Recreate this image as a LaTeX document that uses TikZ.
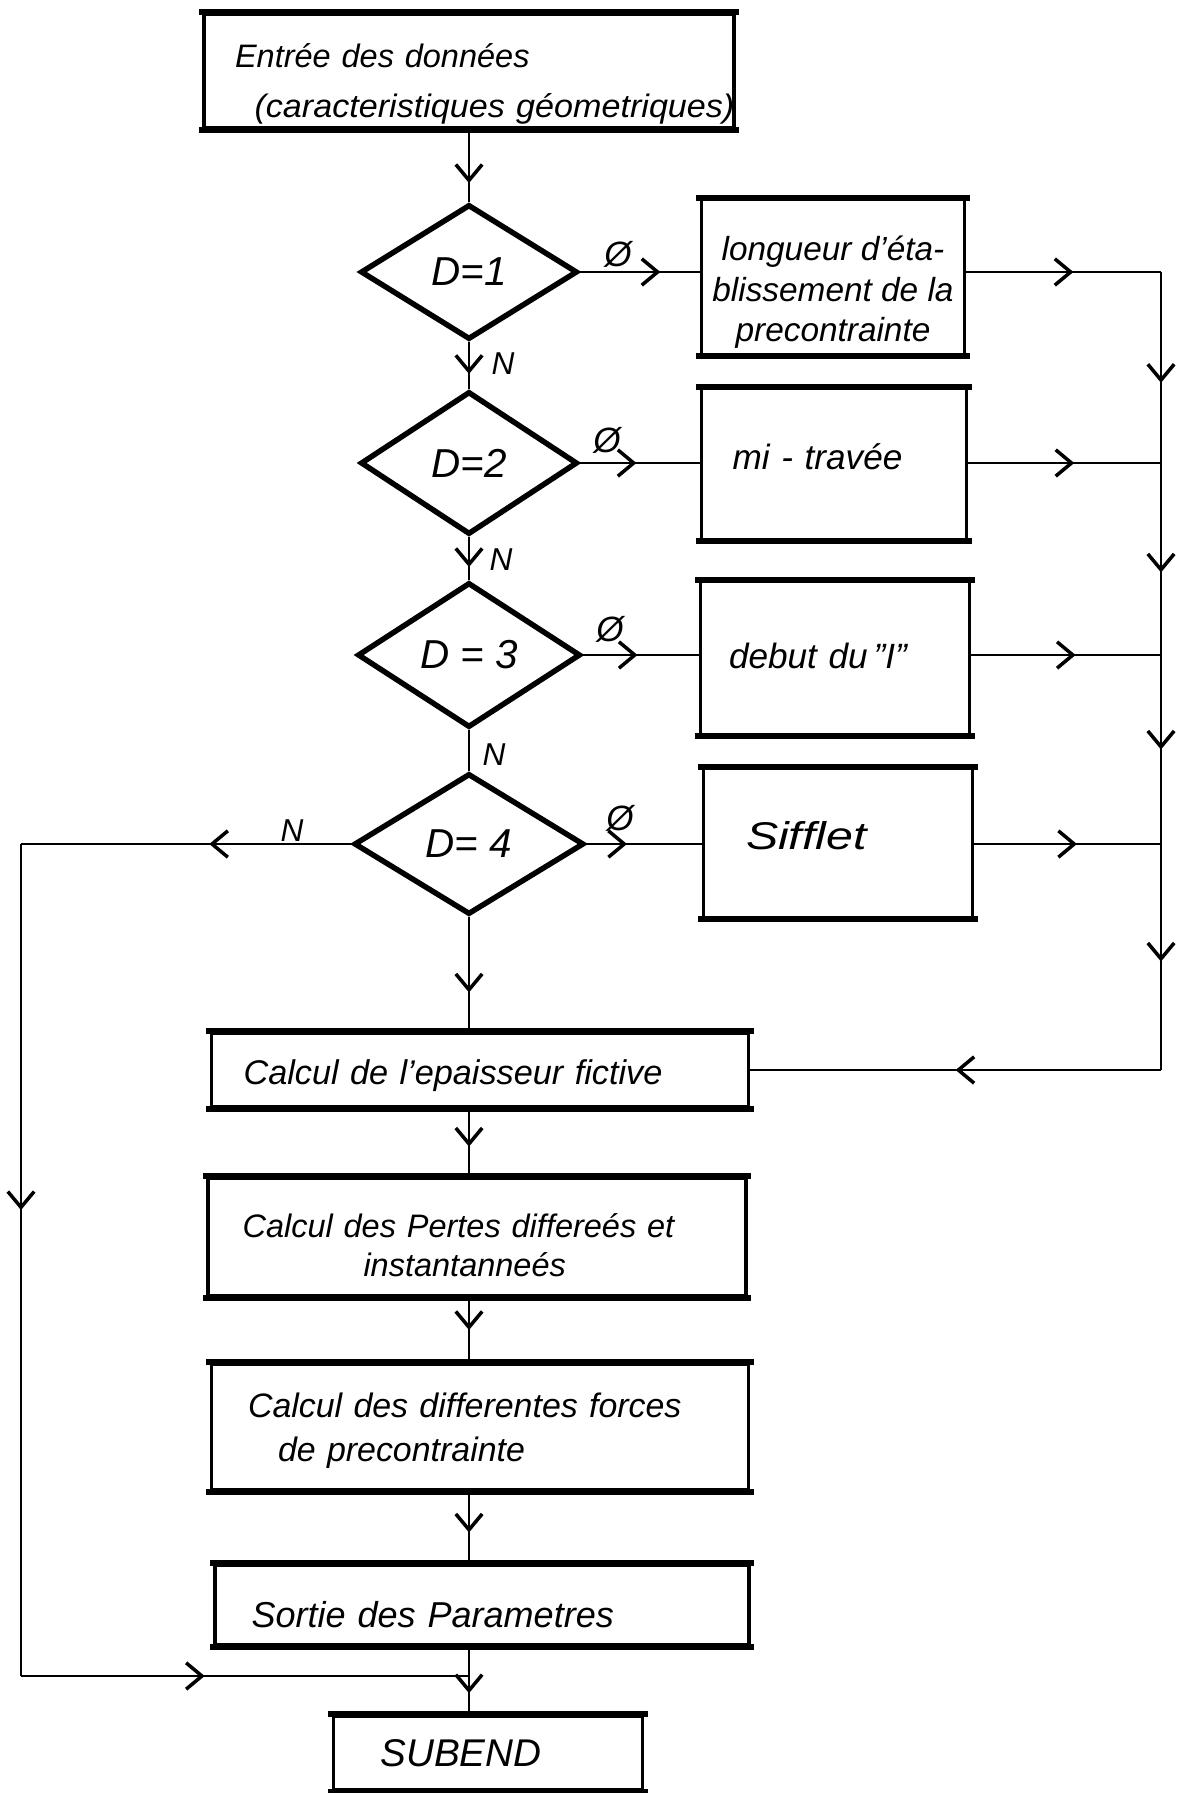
\documentclass[tikz,border=0pt]{standalone}
\usepackage{graphicx}
\usepackage{fontspec}
\setmainfont{Liberation Sans}
\usetikzlibrary{arrows.meta,shapes.geometric,decorations.markings}

% handwritten-style italic at a given size / baseline skip
\newcommand\hand[2]{\fontsize{#1}{#2}\selectfont\itshape}
% invisible struts that push a text block down (tall) or up (deep)
\newcommand\tallstrut[1]{\rule{0pt}{#1}}
\newcommand\deepstrut[1]{\rule[-#1]{0pt}{#1}}

\begin{document}
\begin{tikzpicture}[x=0.02cm,y=-0.02cm,
  chev/.tip={Straight Barb[length=9pt,width=15pt,line width=2pt]},
  wire/.style={line width=0.9pt},
  flow/.style={wire, postaction={decorate},
    decoration={markings, mark=at position #1 with {\arrow{chev}}}},
  bars/.style={append after command={
    (\tikzlastnode.north west) edge[draw, line width=3.4pt, shorten <=-2pt, shorten >=-2pt] (\tikzlastnode.north east)
    (\tikzlastnode.south west) edge[draw, line width=3.4pt, shorten <=-2pt, shorten >=-2pt] (\tikzlastnode.south east)}},
  tbox/.style={draw, rectangle, line width=2pt, inner ysep=0pt, align=left, bars},
  cbox/.style={draw, rectangle, line width=2pt, inner ysep=0pt, align=center, bars},
  test/.style={draw, diamond, line width=3.1pt, inner sep=0pt, font=\hand{23}{28}},
  tag/.style={inner sep=0pt, font=\hand{20}{24}},
  ntag/.style={inner sep=0pt, font=\hand{18}{22}},
]
\useasboundingbox (0,0) rectangle (1194,1793);

% ---- processing boxes and tests ----
\node[tbox, minimum width=10.6cm, minimum height=2.28cm, text width=9.36cm,
      inner xsep=0.62cm, font=\hand{18.5}{28.5}] (input) at (469,71)
  {\tallstrut{1.0cm}\mbox{Entrée des données}\\
   \mbox{\hspace{0.39cm}\scalebox{1.05}[1]{(caracteristiques géometriques)}}};

\node[test, minimum width=4.34cm, minimum height=2.7cm]  (q1) at (469,272) {D=1};
\node[test, minimum width=4.34cm, minimum height=2.86cm] (q2) at (469,463) {D=2};
\node[test, minimum width=4.46cm, minimum height=2.9cm]  (q3) at (469,655) {D = 3};
\node[test, minimum width=4.6cm,  minimum height=2.82cm] (q4) at (469,844) {D= 4};

\node[cbox, minimum width=5.26cm, minimum height=3.1cm, font=\hand{19}{22.8}]
  (lead) at (833,277) {\tallstrut{1.1cm}longueur d'éta-\\blissement de la\\precontrainte};
\node[tbox, minimum width=5.3cm, minimum height=3.02cm, text width=4.06cm,
      inner xsep=0.62cm, font=\hand{20}{24}] (mid) at (834,464)
  {\deepstrut{0.28cm}\mbox{mi - travée}};
\node[tbox, minimum width=5.38cm, minimum height=3.06cm, text width=4.24cm,
      inner xsep=0.57cm, font=\hand{20}{24}] (start) at (835,658)
  {\deepstrut{0.1cm}\mbox{debut du\,"I"}};
\node[tbox, minimum width=5.38cm, minimum height=2.98cm, text width=3.68cm,
      inner xsep=0.85cm, font=\hand{22}{26}] (bevel) at (838,843)
  {\deepstrut{0.32cm}\scalebox{1.25}[1]{Sifflet}};

\node[tbox, minimum width=10.74cm, minimum height=1.48cm, text width=9.46cm,
      inner xsep=0.64cm, font=\hand{19.5}{24}] (eps) at (480,1070)
  {\tallstrut{0.72cm}\mbox{Calcul de l'epaisseur fictive}};
\node[tbox, minimum width=10.76cm, minimum height=2.36cm, text width=9.38cm,
      inner xsep=0.69cm, font=\hand{18.5}{22.2}] (loss) at (477,1237)
  {\tallstrut{0.8cm}\mbox{Calcul des Pertes differeés et}\\\mbox{\hspace{2.42cm}instantanneés}};
\node[tbox, minimum width=10.74cm, minimum height=2.52cm, text width=9.28cm,
      inner xsep=0.73cm, font=\hand{19.3}{24.7}] (force) at (480,1427)
  {\tallstrut{0.64cm}\mbox{Calcul des differentes forces}\\\mbox{\hspace{0.6cm}de precontrainte}};
\node[tbox, minimum width=10.68cm, minimum height=1.6cm, text width=9.22cm,
      inner xsep=0.73cm, font=\hand{20.5}{24}] (out) at (482,1605)
  {\tallstrut{0.92cm}\mbox{Sortie des Parametres}};
\node[tbox, minimum width=6.18cm, minimum height=1.48cm, text width=4.3cm,
      inner xsep=0.94cm, font=\hand{22}{26}] (subend) at (488,1753) {SUBEND};

% collector rails and the junction above SUBEND
\coordinate (rail)  at (1161,274);
\coordinate (lrail) at (21,1676);
\coordinate (join)  at (469,1676);

% ---- main column ----
\draw[flow=0.74] (input.south) -- (q1.north);
\draw[flow=0.68] (q1.south) -- (q2.north);
\draw[flow=0.70] (q2.south) -- (q3.north);
\draw[wire]      (q3.south) -- (q4.north);
\draw[flow=0.66] (q4.south) -- (q4.south |- eps.north);
\draw[flow=0.56] (eps.south -| join) -- (loss.north -| join);
\draw[flow=0.50] (loss.south -| join) -- (force.north -| join);
\draw[flow=0.57] (force.south -| join) -- (out.north -| join);
\draw[wire]      (out.south -| join) -- (join);
\draw[flow=0.45] (join) -- (subend.north -| join);

% ---- yes branches ----
\draw[flow=0.67] (q1.east) -- (q1.east -| lead.west);
\draw[flow=0.47] (q2.east) -- (q2.east -| mid.west);
\draw[flow=0.47] (q3.east) -- (q3.east -| start.west);
\draw[flow=0.35] (q4.east) -- (q4.east -| bevel.west);

\draw[flow=0.55] (q1.east -| lead.east)  -- (q1.east -| rail);
\draw[flow=0.55] (q2.east -| mid.east)   -- (q2.east -| rail);
\draw[flow=0.55] (q3.east -| start.east) -- (q3.east -| rail);
\draw[flow=0.55] (q4.east -| bevel.east) -- (q4.east -| rail);

\draw[flow=0.58] (q1.east -| rail) -- (q2.east -| rail);
\draw[flow=0.57] (q2.east -| rail) -- (q3.east -| rail);
\draw[flow=0.50] (q3.east -| rail) -- (q4.east -| rail);
\draw[flow=0.52] (q4.east -| rail) -- (eps.east -| rail);
\draw[flow=0.50] (eps.east -| rail) -- (eps.east);

% ---- bypass on the left ----
\draw[flow=0.43] (q4.west) -- (q4.west -| lrail);
\draw[flow=0.44] (q4.west -| lrail) -- (lrail);
\draw[flow=0.41] (lrail) -- (join);

% ---- branch labels ----
\node[tag] (y1) at (618,254) {Ø};
\node[tag] (y2) at (607,440) {Ø};
\node[tag] (y3) at (610,629) {Ø};
\node[tag] (y4) at (620,818) {Ø};
\node[ntag] (n1) at (503,364) {N};
\node[ntag] (n2) at (501,560) {N};
\node[ntag] (n3) at (494,755) {N};
\node[ntag] (n4) at (292,831) {N};
\end{tikzpicture}
\end{document}
